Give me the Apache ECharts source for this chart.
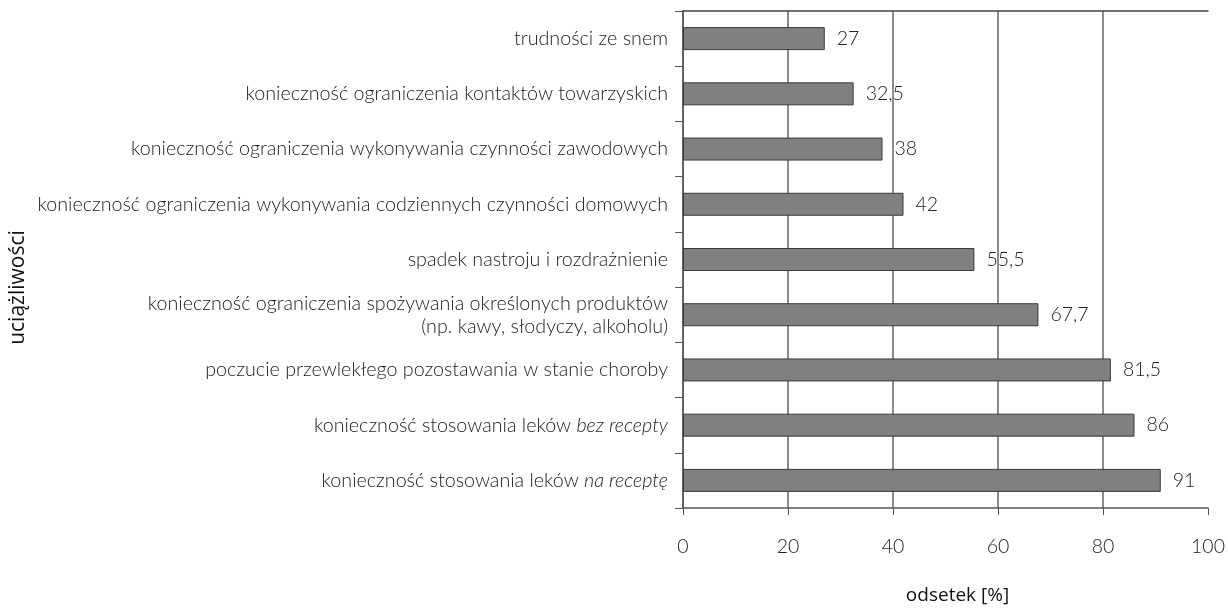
<!DOCTYPE html>
<html lang="pl">
<head>
<meta charset="UTF-8">
<title>uciążliwości</title>
<style>
    html, body { margin: 0; padding: 0; background: #fff; }
    #chart { width: 1228px; height: 610px; }
</style>
</head>
<body>
<div id="chart"></div>
<script src="https://cdn.jsdelivr.net/npm/echarts@6/dist/echarts.min.js"></script>
<script>
// dane (od góry do dołu)
var categories = [
    'trudności ze snem',
    'konieczność ograniczenia kontaktów towarzyskich',
    'konieczność ograniczenia wykonywania czynności zawodowych',
    'konieczność ograniczenia wykonywania codziennych czynności domowych',
    'spadek nastroju i rozdrażnienie',
    'konieczność ograniczenia spożywania określonych produktów\n(np. kawy, słodyczy, alkoholu)',
    'poczucie przewlekłego pozostawania w stanie choroby',
    'konieczność stosowania leków {i|bez recepty}',
    'konieczność stosowania leków {i|na receptę}'
];
var values = [27, 32.5, 38, 42, 55.5, 67.7, 81.5, 86, 91];
var xTicks = [0, 20, 40, 60, 80, 100];

var font = 'Lato, "Open Sans", sans-serif';
var nameFont = '"Open Sans", "Noto Sans", sans-serif';
var txt = '#222';
var chart = echarts.init(document.getElementById('chart'));

var option = {
    animation: false,
    grid: { left: 683, right: 20, top: 11, bottom: 91 },
    xAxis: [{
        type: 'value',
        min: xTicks[0],
        max: xTicks[xTicks.length - 1],
        interval: 20,
        name: 'odsetek [%]',
        nameLocation: 'middle',
        nameGap: 78,
        nameTextStyle: { fontFamily: nameFont, fontSize: 19, color: '#111', padding: [0, 0, 0, 24] },
        axisLine: { show: true, lineStyle: { color: '#555', width: 1.5 } },
        axisTick: { show: true, length: 7, lineStyle: { color: '#555' } },
        axisLabel: { margin: 29, fontFamily: font, fontWeight: 300, fontSize: 19.5, color: txt },
        splitLine: { show: true, showMaxLine: false, lineStyle: { color: '#666', width: 1.5 } }
    }, {
        // górna linia ramki
        type: 'value',
        position: 'top',
        min: 0, max: 100,
        axisLine: { show: true, lineStyle: { color: '#444', width: 1.5 } },
        axisTick: { show: false },
        axisLabel: { show: false },
        splitLine: { show: false }
    }],
    yAxis: {
        type: 'category',
        inverse: true,
        data: categories,
        name: 'uciążliwości',
        nameLocation: 'middle',
        nameRotate: 90,
        nameGap: 654,
        nameTextStyle: { fontFamily: nameFont, fontSize: 21, color: '#111', padding: [0, 56, 0, 0] },
        axisLine: { show: true, lineStyle: { color: '#555', width: 1.5 } },
        axisTick: { show: true, length: 8, lineStyle: { color: '#555' } },
        axisLabel: {
            margin: 15,
            fontFamily: font,
            fontWeight: 300,
            fontSize: 19.7,
            color: txt,
            lineHeight: 23,
            align: 'right',
            rich: {
                i: { fontFamily: font, fontWeight: 300, fontSize: 19.7, color: txt, fontStyle: 'italic' }
            }
        }
    },
    series: [{
        type: 'bar',
        data: values,
        barWidth: 23,
        itemStyle: { color: '#808080', borderColor: '#3a3a3a', borderWidth: 1 },
        label: {
            show: true,
            position: 'right',
            distance: 12,
            fontFamily: font,
            fontWeight: 300,
            fontSize: 19.5,
            color: txt,
            formatter: function (p) { return String(p.value).replace('.', ','); }
        }
    }]
};

chart.setOption(option, true);
</script>
</body>
</html>
